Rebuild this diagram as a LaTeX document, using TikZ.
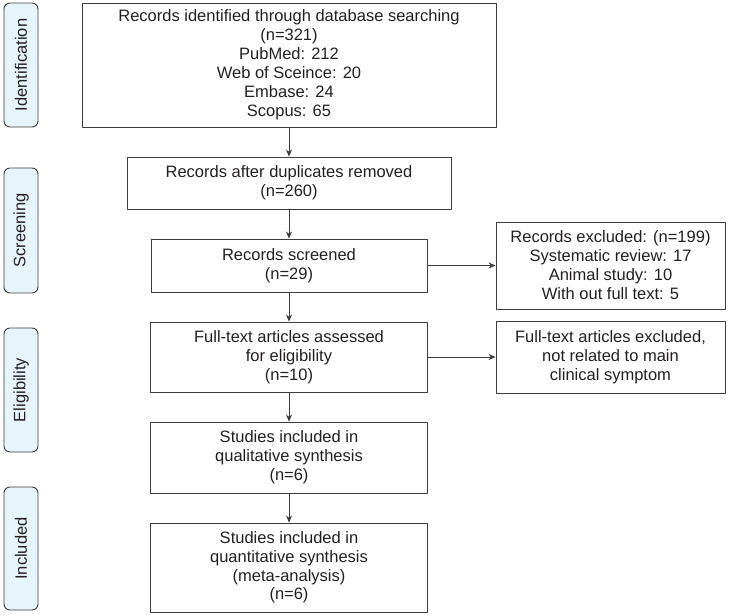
\documentclass[tikz,border=0pt]{standalone}
\usepackage{fontspec}
\setmainfont{Liberation Sans}
\usetikzlibrary{arrows.meta}
\definecolor{stagefill}{RGB}{232,244,252}
\definecolor{boxline}{RGB}{60,60,60}
\definecolor{txt}{RGB}{35,31,32}
\tikzset{
  box/.style={draw=boxline,line width=0.9pt,align=center,inner sep=0pt,text=txt,
    font=\fontsize{16.5}{19}\selectfont},
  stage/.style={draw=boxline,line width=0.9pt,fill=stagefill,rounded corners=6pt,
    inner sep=0pt,text=txt,rotate=90,font=\fontsize{16.5}{19}\selectfont},
}
\begin{document}
\begin{tikzpicture}[line join = round,>={Stealth[length=7pt,width=6pt]},x = 1pt,y = -1pt]
	\useasboundingbox (0,0) rectangle (729,615);
	%Các giai đoạn bên trái
	\node[stage,minimum height=34pt,minimum width=124pt] (sId) at (21,65) {Identification};
	\node[stage,minimum height=34pt,minimum width=125pt] (sScr) at (21,230.5) {Screening};
	\node[stage,minimum height=34pt,minimum width=124pt] (sElig) at (21,390) {Eligibility};
	\node[stage,minimum height=34pt,minimum width=123pt] (sInc) at (21,548.5) {Included};
	%Các hộp chính
	\node[box,minimum width=414pt,minimum height=124pt] (ident) at (289,65)
		{Records identified through database searching\\(n=321)\\PubMed: 212\\Web of Sceince: 20\\Embase: 24\\Scopus: 65};
	\node[box,minimum width=324pt,minimum height=52pt] (dup) at (289,183)
		{Records after duplicates removed\\(n=260)};
	\node[box,minimum width=276pt,minimum height=53pt] (scr) at (289,265.5)
		{Records screened\\(n=29)};
	\node[box,minimum width=277pt,minimum height=70pt] (full) at (289,357)
		{Full-text articles assessed\\for eligibility\\(n=10)};
	\node[box,minimum width=277pt,minimum height=71pt] (qual) at (289,457.5)
		{Studies included in\\qualitative synthesis\\(n=6)};
	\node[box,minimum width=277pt,minimum height=89pt,font=\fontsize{16.5}{18.7}\selectfont] (quant) at (289,567.5)
		{Studies included in\\quantitative synthesis\\(meta-analysis)\\(n=6)};
	%Các hộp loại trừ
	\node[box,minimum width=229pt,minimum height=87pt] (excA) at (610.5,265.5)
		{Records excluded: (n=199)\\Systematic review: 17\\Animal study: 10\\With out full text: 5};
	\node[box,minimum width=229pt,minimum height=72pt] (excB) at (610.5,357)
		{Full-text articles excluded,\\not related to main\\clinical symptom};
	%Các mũi tên
	\draw[->,line width=0.8pt,boxline] (ident) -- (dup);
	\draw[->,line width=0.8pt,boxline] (dup) -- (scr);
	\draw[->,line width=0.8pt,boxline] (scr) -- (full);
	\draw[->,line width=0.8pt,boxline] (full) -- (qual);
	\draw[->,line width=0.8pt,boxline] (qual) -- (quant);
	\draw[->,line width=0.8pt,boxline] (scr) -- (excA);
	\draw[->,line width=0.8pt,boxline] (full) -- (excB);
\end{tikzpicture}
\end{document}
